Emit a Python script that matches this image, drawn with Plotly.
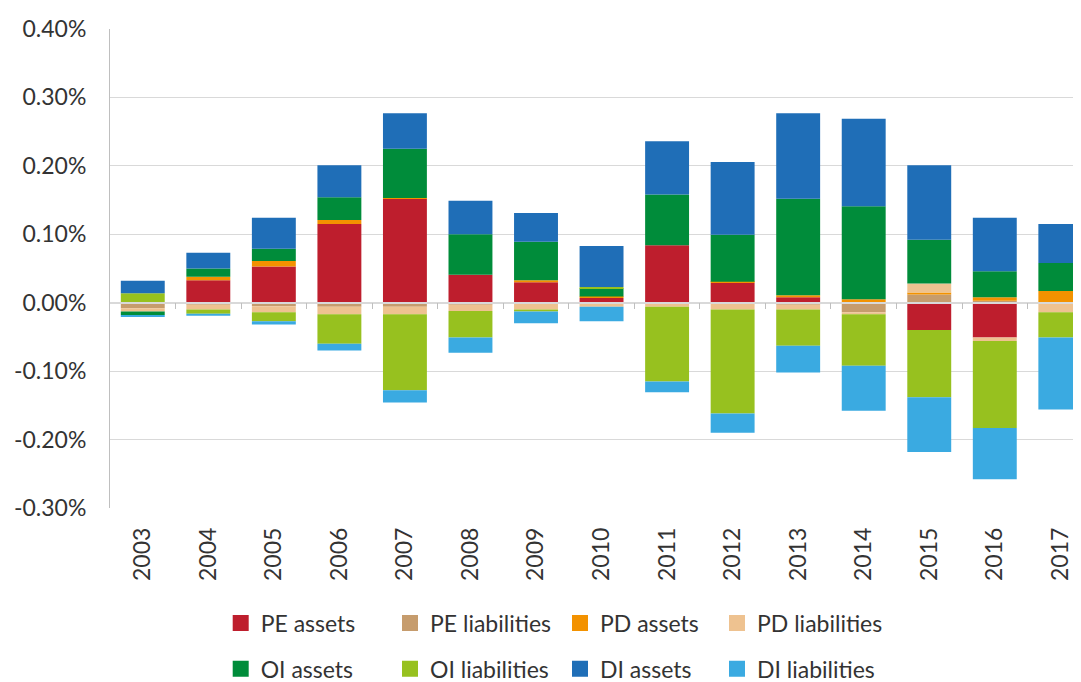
import plotly.graph_objects as go

years = [str(y) for y in range(2003, 2018)]

# values in percent
pe_assets = [0.000, 0.033, 0.053, 0.115, 0.152, 0.041, 0.030, 0.007, 0.084, 0.029, 0.008, -0.002, -0.040, -0.051, 0.000]
pe_liab   = [-0.008, -0.003, -0.005, -0.006, -0.006, -0.003, -0.002, -0.001, -0.002, -0.002, -0.003, -0.012, 0.012, 0.003, -0.001]
pd_assets = [0.000, 0.005, 0.008, 0.006, 0.001, 0.000, 0.003, 0.002, 0.000, 0.0015, 0.003, 0.005, 0.003, 0.005, 0.017]
pd_liab   = [-0.005, -0.007, -0.009, -0.011, -0.011, -0.009, -0.008, -0.005, -0.004, -0.008, -0.007, -0.003, 0.013, -0.005, -0.013]
oi_assets = [-0.005, 0.012, 0.018, 0.033, 0.072, 0.059, 0.056, 0.012, 0.074, 0.069, 0.141, 0.136, 0.064, 0.038, 0.041]
oi_liab   = [0.014, -0.006, -0.013, -0.043, -0.111, -0.039, -0.003, 0.002, -0.109, -0.152, -0.053, -0.075, -0.098, -0.127, -0.037]
di_assets = [0.018, 0.023, 0.045, 0.047, 0.052, 0.049, 0.042, 0.060, 0.078, 0.106, 0.125, 0.128, 0.109, 0.078, 0.057]
di_liab   = [-0.002, -0.003, -0.005, -0.010, -0.018, -0.022, -0.017, -0.021, -0.016, -0.028, -0.039, -0.066, -0.080, -0.075, -0.105]

series_names = ["PE assets", "PE liabilities", "PD assets", "PD liabilities",
                "OI assets", "OI liabilities", "DI assets", "DI liabilities"]
series_values = [pe_assets, pe_liab, pd_assets, pd_liab, oi_assets, oi_liab, di_assets, di_liab]
series_colors = ["#BE1E2D", "#C69C6D", "#F39200", "#EEC290",
                 "#008C3A", "#97C11F", "#1F6EB7", "#3AAAE1"]

y_ticks = [-0.30, -0.20, -0.10, 0.00, 0.10, 0.20, 0.30, 0.40]
y_ticktext = [f"{v:.2f}%" for v in y_ticks]

FONT = "Lato"
FS = 23
TXT = "#333333"
GRID = "#d9d9d9"

OFF = 8  # page body margin offset
W, H = 1081 - OFF, 682 - OFF
L, T = 110 - OFF, 29 - OFF
plot_right = 1081 - OFF
plot_bottom = 507.7 - OFF
R = W - plot_right
B = H - plot_bottom
plot_w = W - L - R
plot_h = H - T - B

fig = go.Figure()
for name, vals, col in zip(series_names, series_values, series_colors):
    fig.add_trace(go.Bar(x=years, y=vals, name=name, marker=dict(color=col, line=dict(width=0)),
                         showlegend=False))

# legend proxies, one legend per entry for exact positions
sq_cx = [240.7, 410, 580, 737]
row_cy = [622.7, 668.5]
for i, (name, col) in enumerate(zip(series_names, series_colors)):
    r, c = divmod(i, 4)
    lname = "legend" if i == 0 else f"legend{i+1}"
    fig.add_trace(go.Scatter(x=[None], y=[None], xaxis="x2", mode="markers", name=name,
                             marker=dict(symbol="square", size=16, color=col),
                             legend=lname, showlegend=True, hoverinfo="skip"))
    lx = (sq_cx[c] - OFF - 20 - L) / plot_w
    ly = (T + plot_h - (row_cy[r] - OFF)) / plot_h
    fig.update_layout({lname: dict(x=lx, y=ly, xanchor="left", yanchor="middle",
                                   bgcolor="rgba(0,0,0,0)", borderwidth=0,
                                   font=dict(family=FONT, size=FS, color=TXT))})

n = len(years)
xr = [-0.5, -0.5 + plot_w / 65.54]
zero_pos = (0 - y_ticks[0]) / (y_ticks[-1] - y_ticks[0])

fig.update_layout(
    width=W, height=H,
    margin=dict(l=L, r=R, t=T, b=B, pad=0, autoexpand=False),
    paper_bgcolor="white", plot_bgcolor="white",
    barmode="relative", bargap=0.33,
    font=dict(family=FONT, size=FS, color=TXT),
    xaxis=dict(type="category", categoryorder="array", categoryarray=years,
               range=xr, tickangle=-90, showgrid=False, showline=False, zeroline=False,
               ticks="", ticklabelstandoff=14,
               tickfont=dict(family=FONT, size=FS, color=TXT)),
    xaxis2=dict(overlaying="x", anchor="free", position=zero_pos, range=xr,
                tickmode="array", tickvals=[i + 0.5 for i in range(n)],
                ticks="outside", ticklen=6, tickwidth=1, tickcolor="#bfbfbf",
                showticklabels=False, showgrid=False, zeroline=False,
                showline=True, linecolor=GRID, linewidth=1.5, layer="above traces"),
    yaxis=dict(range=[y_ticks[0], y_ticks[-1]], tickmode="array", tickvals=y_ticks,
               ticktext=y_ticktext, showgrid=True, gridcolor=GRID, gridwidth=1,
               zeroline=False, showline=True, linecolor="#bfbfbf", linewidth=1,
               ticks="", ticklabelstandoff=18,
               tickfont=dict(family=FONT, size=FS, color=TXT)),
)

fig.write_html("out.html")
